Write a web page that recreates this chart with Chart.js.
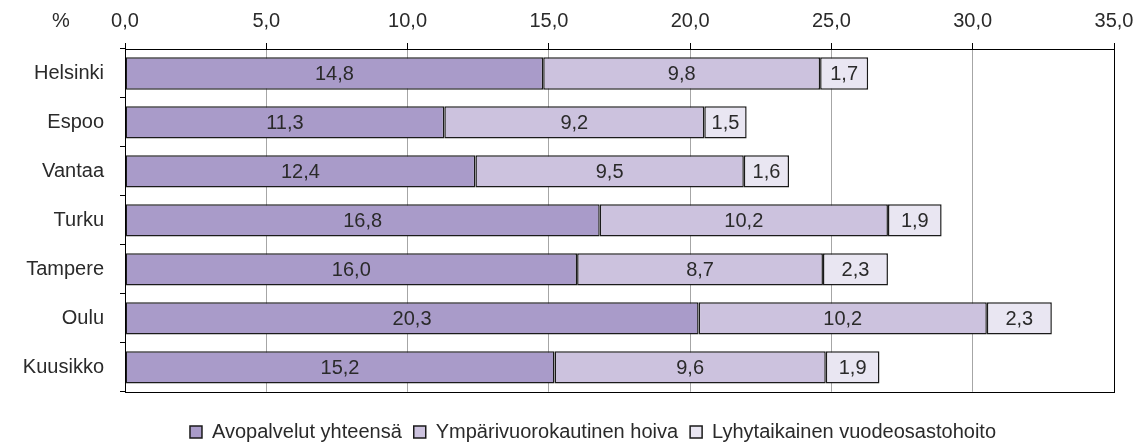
<!DOCTYPE html>
<html>
<head>
<meta charset="utf-8">
<script src="https://cdn.jsdelivr.net/npm/chart.js@4"></script>
<style>
  html, body { margin: 0; padding: 0; background: #fff; }
  #wrap { width: 1140px; height: 445px; }
</style>
</head>
<body>
<div id="wrap"><canvas id="chart" width="1140" height="445"></canvas></div>
<script>
const cities = ['Helsinki', 'Espoo', 'Vantaa', 'Turku', 'Tampere', 'Oulu', 'Kuusikko'];
const avopalvelut = [14.8, 11.3, 12.4, 16.8, 16.0, 20.3, 15.2];
const ymparivuorokautinen = [9.8, 9.2, 9.5, 10.2, 8.7, 10.2, 9.6];
const lyhytaikainen = [1.7, 1.5, 1.6, 1.9, 2.3, 2.3, 1.9];
const seriesNames = ['Avopalvelut yhteensä', 'Ympärivuorokautinen hoiva', 'Lyhytaikainen vuodeosastohoito'];

const fi = v => v.toFixed(1).replace('.', ',');
const FONT = '"Liberation Sans", Arial, sans-serif';

// values inside each bar segment + frame + % label
const extras = {
  id: 'extras',
  afterLayout(chart) {
    // legend sits a bit right of centre in the original
    chart.legend.left += 36;
    chart.legend.right += 36;
  },
  afterDatasetsDraw(chart) {
    const ctx = chart.ctx;
    ctx.save();
    ctx.font = '20px ' + FONT;
    ctx.fillStyle = '#2a2a2a';
    ctx.textAlign = 'center';
    ctx.textBaseline = 'middle';
    chart.data.datasets.forEach((ds, i) => {
      chart.getDatasetMeta(i).data.forEach((bar, j) => {
        const x = (bar.x + bar.base) / 2;
        ctx.fillText(fi(ds.data[j]), x, bar.y + 1);
      });
    });
    const a = chart.chartArea;
    ctx.strokeStyle = '#000';
    ctx.lineWidth = 1;
    ctx.strokeRect(Math.round(a.left) + 0.5, Math.round(a.top) + 0.5,
      Math.round(a.right - a.left), Math.round(a.bottom - a.top));
    ctx.fillText('%', 61, 21);
    ctx.restore();
  }
};

new Chart(document.getElementById('chart'), {
  type: 'bar',
  data: {
    labels: cities,
    datasets: [
      { label: seriesNames[0], data: avopalvelut, backgroundColor: '#a99bc9' },
      { label: seriesNames[1], data: ymparivuorokautinen, backgroundColor: '#ccc2de' },
      { label: seriesNames[2], data: lyhytaikainen, backgroundColor: '#e9e6f2' }
    ].map(d => Object.assign(d, {
      borderColor: '#1a1a1a', borderWidth: 1.5, borderSkipped: false,
      barPercentage: 0.66, categoryPercentage: 1
    }))
  },
  options: {
    indexAxis: 'y',
    responsive: false,
    animation: false,
    layout: { padding: { top: 0, right: 26, bottom: -7, left: 0 } },
    scales: {
      x: {
        position: 'top',
        stacked: true,
        min: 0, max: 35,
        ticks: { stepSize: 5, color: '#2a2a2a', font: { family: FONT, size: 20 }, padding: 10,
          callback: v => fi(v) },
        grid: { color: '#a6a6a6', tickColor: '#000', tickLength: 6 },
        border: { color: '#000' },
        afterFit: s => { s.height = 49; s.paddingRight = 0; s.paddingLeft = 0; }
      },
      y: {
        stacked: true,
        ticks: { color: '#2a2a2a', font: { family: FONT, size: 20 }, padding: 16 },
        grid: { offset: true, drawOnChartArea: false, tickColor: '#000', tickLength: 5 },
        border: { color: '#000' },
        afterFit: s => { s.width = 125; }
      }
    },
    plugins: {
      legend: {
        position: 'bottom',
        title: { display: true, text: ' ', padding: { top: 11, bottom: 0 }, font: { size: 6 } },
        labels: {
          color: '#2a2a2a', font: { family: FONT, size: 20 },
          boxWidth: 12, boxHeight: 12, padding: 12, useBorderRadius: false
        }
      },
      tooltip: { enabled: false }
    }
  },
  plugins: [extras]
});
</script>
</body>
</html>
